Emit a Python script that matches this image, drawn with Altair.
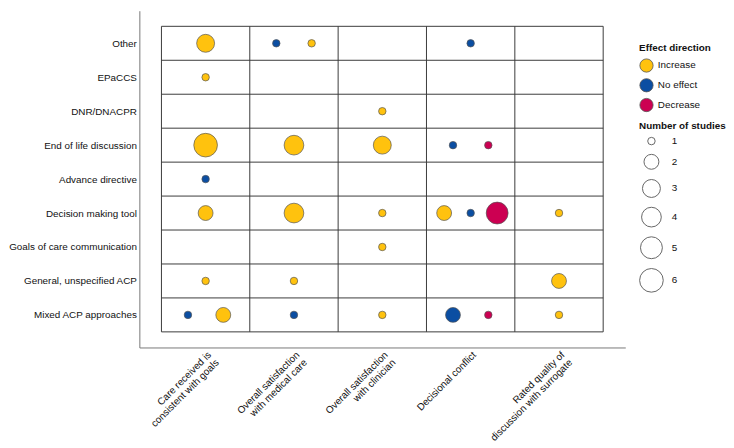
import json
import altair as alt
import pandas as pd

# ---- data ----
rows = ["Other", "EPaCCS", "DNR/DNACPR", "End of life discussion", "Advance directive",
        "Decision making tool", "Goals of care communication", "General, unspecified ACP",
        "Mixed ACP approaches"]
cols = ["Care received is\nconsistent with goals", "Overall satisfaction\nwith medical care",
        "Overall satisfaction\nwith clinician", "Decisional conflict",
        "Rated quality of\ndiscussion with surrogate"]
effects = ["Increase", "No effect", "Decrease"]
effect_colors = ["#FFC20E", "#0B4EA2", "#CC0052"]
study_counts = [1, 2, 3, 4, 5, 6]

# bubbles listed left-to-right inside each cell
bubble_row = ["Other", "Other", "Other", "Other",
              "EPaCCS",
              "DNR/DNACPR",
              "End of life discussion", "End of life discussion", "End of life discussion",
              "End of life discussion", "End of life discussion",
              "Advance directive",
              "Decision making tool", "Decision making tool", "Decision making tool",
              "Decision making tool", "Decision making tool", "Decision making tool",
              "Decision making tool",
              "Goals of care communication",
              "General, unspecified ACP", "General, unspecified ACP", "General, unspecified ACP",
              "Mixed ACP approaches", "Mixed ACP approaches", "Mixed ACP approaches",
              "Mixed ACP approaches", "Mixed ACP approaches", "Mixed ACP approaches",
              "Mixed ACP approaches"]
bubble_col = [0, 1, 1, 3,
              0,
              2,
              0, 1, 2, 3, 3,
              0,
              0, 1, 2, 3, 3, 3, 4,
              2,
              0, 1, 4,
              0, 0, 1, 2, 3, 3, 4]
bubble_effect = ["Increase", "No effect", "Increase", "No effect",
                 "Increase",
                 "Increase",
                 "Increase", "Increase", "Increase", "No effect", "Decrease",
                 "No effect",
                 "Increase", "Increase", "Increase", "Increase", "No effect", "Decrease", "Increase",
                 "Increase",
                 "Increase", "Increase", "Increase",
                 "No effect", "Increase", "No effect", "Increase", "No effect", "Decrease", "Increase"]
bubble_n = [3, 1, 1, 1,
            1,
            1,
            6, 4, 3, 1, 1,
            1,
            2, 4, 1, 2, 1, 5, 1,
            1,
            1, 1, 2,
            1, 2, 1, 1, 2, 1, 1]

# ---- derived table ----
df = pd.DataFrame({"row": bubble_row, "col": bubble_col,
                   "effect": bubble_effect, "n": bubble_n})
df["slot"] = df.groupby(["row", "col"]).cumcount()
df["cnt"] = df.groupby(["row", "col"])["effect"].transform("count")
step = {1: 0.0, 2: 0.4, 3: 0.3}
df["xo"] = (df["slot"] - (df["cnt"] - 1) / 2) * df["cnt"].map(step)
df["x"] = df["col"] + 1 + df["xo"]
df["y"] = len(rows) - df["row"].map({r: i for i, r in enumerate(rows)})

nr, nc = len(rows), len(cols)
vlines = pd.DataFrame({"x": [i + 0.5 for i in range(nc + 1)], "y": 0.5, "y2": nr + 0.5})
hlines = pd.DataFrame({"y": [i + 0.5 for i in range(nr + 1)], "x": 0.5, "x2": nc + 0.5})

W, H = 492, 341
xscale = alt.Scale(domain=[0.25, nc + 0.75], nice=False, zero=False)
yscale = alt.Scale(domain=[0.04, nr + 0.96], nice=False, zero=False)

y_labels = json.dumps(list(reversed(rows)))
x_labels = json.dumps(cols)

xaxis = alt.Axis(values=list(range(1, nc + 1)), ticks=False, grid=False, domain=True,
                 domainColor="#777", domainWidth=1, labelAngle=-45, labelAlign="right",
                 labelBaseline="top", labelPadding=2, labelFontSize=10, labelColor="#111",
                 labelLineHeight=11, labelExpr=f"split({x_labels}[datum.value-1], '\\n')",
                 title=None, labelOverlap=False)
yaxis = alt.Axis(values=list(range(1, nr + 1)), ticks=False, grid=False, domain=True,
                 domainColor="#777", domainWidth=1, labelPadding=3, labelFontSize=10,
                 labelColor="#111", labelExpr=f"{y_labels}[datum.value-1]", title=None,
                 labelOverlap=False)

vl = alt.Chart(vlines).mark_rule(color="#3a3a3a", strokeWidth=1).encode(
    x=alt.X("x:Q", scale=xscale, axis=xaxis),
    y=alt.Y("y:Q", scale=yscale, axis=yaxis),
    y2="y2:Q",
)
hl = alt.Chart(hlines).mark_rule(color="#3a3a3a", strokeWidth=1).encode(
    x=alt.X("x:Q", scale=xscale),
    x2="x2:Q",
    y=alt.Y("y:Q", scale=yscale),
)

bubbles = alt.Chart(df).mark_circle(opacity=1, stroke="#555", strokeWidth=0.7).encode(
    x=alt.X("x:Q", scale=xscale),
    y=alt.Y("y:Q", scale=yscale),
    color=alt.Color("effect:N", scale=alt.Scale(domain=effects, range=effect_colors),
                    legend=alt.Legend(title="Effect direction", orient="none", legendX=506,
                                      legendY=33, symbolType="circle", symbolSize=180,
                                      symbolStrokeColor="#555", symbolStrokeWidth=0.8,
                                      symbolOpacity=1, rowPadding=3, labelFontSize=10,
                                      titleFontSize=10, titleFontWeight="bold",
                                      labelColor="#111", titleColor="#111")),
    size=alt.Size("n:Q", scale=alt.Scale(domain=study_counts,
                                         range=[57, 227, 330, 398, 491, 573]),
                  legend=alt.Legend(title="Number of studies", orient="none", legendX=506,
                                    legendY=112, values=study_counts, format="d",
                                    symbolType="circle", symbolFillColor="white",
                                    symbolStrokeColor="#666", symbolStrokeWidth=1,
                                    symbolOpacity=1, rowPadding=4.5, labelFontSize=10,
                                    labelOffset=8,
                                    titleFontSize=10, titleFontWeight="bold",
                                    labelColor="#111", titleColor="#111")),
)

chart = alt.layer(vl, hl, bubbles).properties(
    width=W, height=H, padding={"left": 0, "top": 0, "right": 0, "bottom": 0}
).configure(font="Liberation Sans").configure_view(stroke=None)

chart.save("out.html", embed_options={"renderer": "svg", "actions": False})
